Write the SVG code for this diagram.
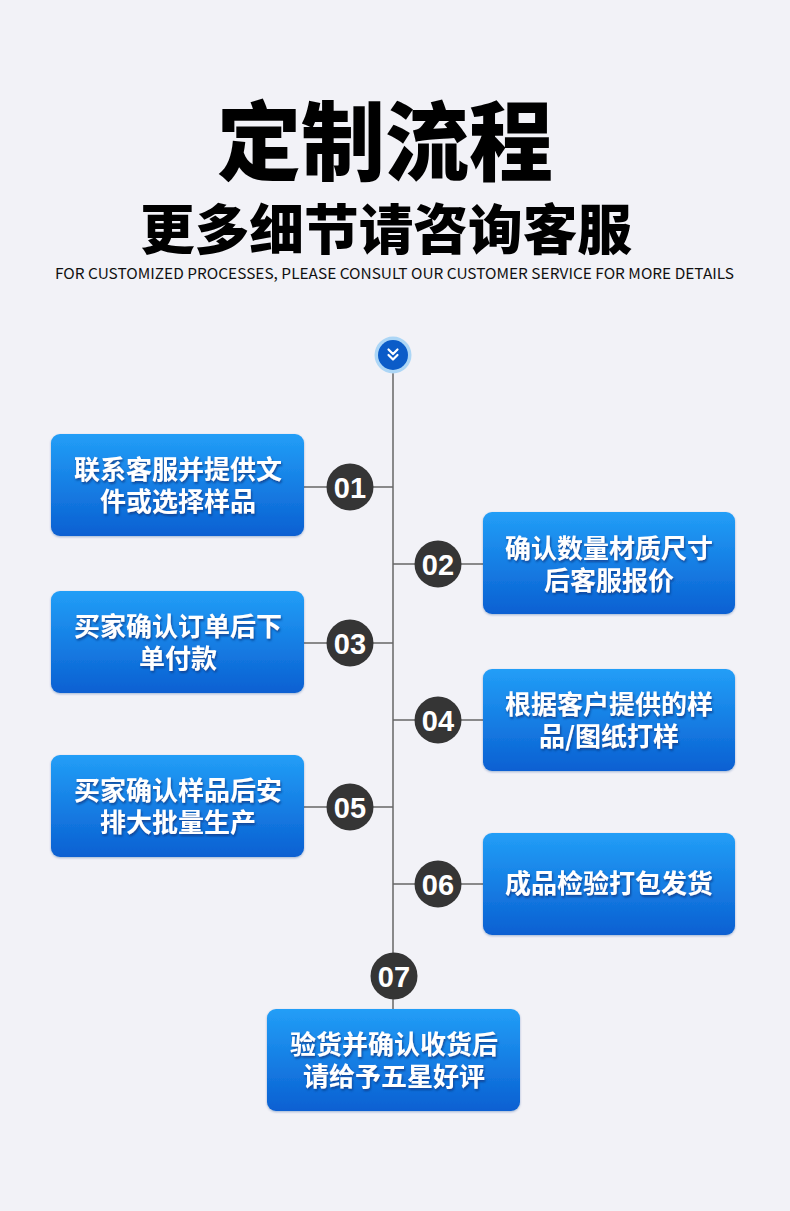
<svg xmlns="http://www.w3.org/2000/svg" width="790" height="1211" viewBox="0 0 790 1211">
<defs>
<linearGradient id="bg" x1="0" y1="0" x2="0" y2="1">
<stop offset="0" stop-color="#229ef7"/>
<stop offset="1" stop-color="#0a60d2"/>
</linearGradient>
<filter id="ts" x="-10%" y="-30%" width="120%" height="160%">
<feDropShadow dx="1" dy="2" stdDeviation="0.8" flood-color="#0a3d8a" flood-opacity="0.85"/>
</filter>
<filter id="bs" x="-5%" y="-5%" width="110%" height="115%">
<feDropShadow dx="0" dy="1" stdDeviation="1" flood-color="#0a3d8a" flood-opacity="0.35"/>
</filter>
</defs>
<style>
.box{fill:url(#bg);filter:url(#bs)}
.bt{font-family:"Noto Sans CJK SC",sans-serif;font-weight:700;font-size:26px;fill:#fff;text-anchor:middle;filter:url(#ts)}
.num{fill:#353535}
.nt{font-family:"Liberation Sans",Arial,sans-serif;font-weight:700;font-size:29px;fill:#fff;text-anchor:middle}
.ln{stroke:#666;stroke-width:1.5;fill:none}
</style>
<rect width="790" height="1211" fill="#f2f2f7"/>
<g id="title">
<text x="385" y="174" font-family="Noto Sans CJK SC,sans-serif" font-weight="900" font-size="86" text-anchor="middle" fill="#000" textLength="336" lengthAdjust="spacingAndGlyphs">定制流程</text>
<text x="386" y="250" font-family="Noto Sans CJK SC,sans-serif" font-weight="900" font-size="54" text-anchor="middle" fill="#000" textLength="492" lengthAdjust="spacingAndGlyphs">更多细节请咨询客服</text>
<text x="394.5" y="279" font-family="Noto Sans CJK SC,sans-serif" font-size="15" text-anchor="middle" fill="#111" textLength="679" lengthAdjust="spacingAndGlyphs">FOR CUSTOMIZED PROCESSES, PLEASE CONSULT OUR CUSTOMER SERVICE FOR MORE DETAILS</text>
</g>
<g id="connectors">
<line class="ln" x1="393" y1="373" x2="393" y2="1010"/>
<line class="ln" x1="304" y1="487" x2="393" y2="487"/>
<line class="ln" x1="393" y1="564" x2="483" y2="564"/>
<line class="ln" x1="304" y1="643" x2="393" y2="643"/>
<line class="ln" x1="393" y1="720" x2="483" y2="720"/>
<line class="ln" x1="304" y1="807" x2="393" y2="807"/>
<line class="ln" x1="393" y1="884" x2="483" y2="884"/>
</g>
<g id="start">
<circle cx="393" cy="355" r="18.5" fill="#acd6f6"/>
<circle cx="393" cy="355" r="15" fill="#0b5cc8"/>
<path d="M388.5 349.5 L393 354 L397.5 349.5 M388.5 355 L393 359.5 L397.5 355" stroke="#fff" stroke-width="2.2" fill="none" stroke-linecap="round" stroke-linejoin="round"/>
</g>
<g id="step1">
<rect class="box" x="51" y="434" width="253" height="102" rx="9"/>
<text class="bt" x="178" y="479">联系客服并提供文</text>
<text class="bt" x="178" y="511">件或选择样品</text>
<circle class="num" cx="350" cy="487" r="23.5"/>
<text class="nt" x="350" y="497.5">01</text>
</g>
<g id="step2">
<rect class="box" x="483" y="512" width="252" height="102" rx="9"/>
<text class="bt" x="609" y="558">确认数量材质尺寸</text>
<text class="bt" x="609" y="590">后客服报价</text>
<circle class="num" cx="438" cy="564" r="23.5"/>
<text class="nt" x="438" y="574.5">02</text>
</g>
<g id="step3">
<rect class="box" x="51" y="591" width="253" height="102" rx="9"/>
<text class="bt" x="178" y="636">买家确认订单后下</text>
<text class="bt" x="178" y="668">单付款</text>
<circle class="num" cx="350" cy="643" r="23.5"/>
<text class="nt" x="350" y="653.5">03</text>
</g>
<g id="step4">
<rect class="box" x="483" y="669" width="252" height="102" rx="9"/>
<text class="bt" x="609" y="714">根据客户提供的样</text>
<text class="bt" x="609" y="746">品/图纸打样</text>
<circle class="num" cx="438" cy="720" r="23.5"/>
<text class="nt" x="438" y="730.5">04</text>
</g>
<g id="step5">
<rect class="box" x="51" y="755" width="253" height="102" rx="9"/>
<text class="bt" x="178" y="800">买家确认样品后安</text>
<text class="bt" x="178" y="832">排大批量生产</text>
<circle class="num" cx="350" cy="807" r="23.5"/>
<text class="nt" x="350" y="817.5">05</text>
</g>
<g id="step6">
<rect class="box" x="483" y="833" width="252" height="102" rx="9"/>
<text class="bt" x="609" y="893">成品检验打包发货</text>
<circle class="num" cx="438" cy="884" r="23.5"/>
<text class="nt" x="438" y="894.5">06</text>
</g>
<g id="step7">
<circle class="num" cx="394" cy="976" r="23.5"/>
<text class="nt" x="394" y="986.5">07</text>
<rect class="box" x="267" y="1009" width="253" height="102" rx="9"/>
<text class="bt" x="394" y="1054">验货并确认收货后</text>
<text class="bt" x="394" y="1086">请给予五星好评</text>
</g>
</svg>
